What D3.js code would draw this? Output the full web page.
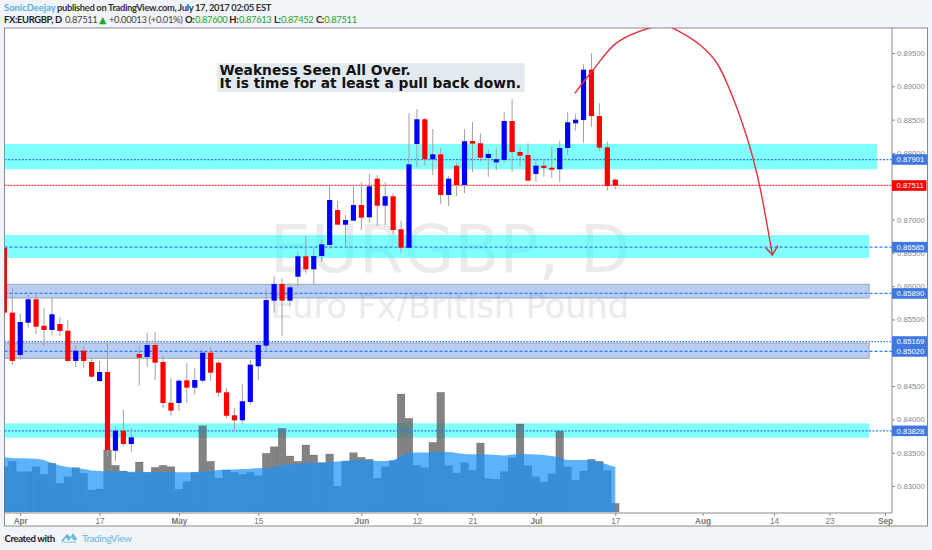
<!DOCTYPE html>
<html><head><meta charset="utf-8">
<script src="https://cdn.jsdelivr.net/npm/d3@7"></script>
<style>
html,body{margin:0;padding:0;background:#f1f4f8;overflow:hidden}
svg{display:block}
text{font-family:"Liberation Sans",Arial,sans-serif}
.hd{font-family:"Lato",sans-serif}
.dj{font-family:"DejaVu Sans",sans-serif}
</style></head><body>
<svg id="c" width="932" height="550"></svg>
<script>
// Bar indices run from -1 (30 Mar 2017) to 76 (17 Jul 2017), trading days only.
const firstBar = -1;
const opens = [.86573,.85602,.84967,.85451,.85803,.85406,.85342,.85432,.85331,.84877,.85031,.84861,.84576,.84711,.8353,.8383,.83631,.84982,.84937,.85117,.84861,.8425,.84246,.84587,.84476,.84581,.85001,.84851,.84407,.84061,.83986,.84261,.84797,.85106,.85782,.86032,.85782,.86142,.86448,.86253,.86453,.86618,.87143,.86923,.86983,.87218,.87034,.87613,.87208,.87349,.86854,.86577,.88134,.88505,.87904,.87979,.87368,.87808,.87519,.88179,.88145,.87924,.87859,.87894,.88479,.88014,.87969,.87684,.87808,.87778,.87754,.88074,.88445,.88494,.8925,.88554,.88085,.876];
const highs = [.8658,.85972,.85582,.85867,.85902,.85672,.85822,.85533,.85492,.85117,.85102,.84922,.84877,.85147,.8389,.84141,.83866,.85102,.85301,.85312,.84952,.84621,.84606,.84842,.84767,.85042,.85091,.84869,.84467,.84166,.84527,.84892,.85166,.85953,.86153,.86118,.86032,.86517,.86753,.86568,.86693,.87508,.87278,.87068,.87493,.87553,.87684,.87669,.87559,.87394,.86983,.88595,.8866,.88529,.88359,.8807,.87654,.87849,.88355,.88464,.88295,.88055,.8807,.88619,.88805,.88094,.88145,.87904,.87904,.88094,.88184,.8861,.8858,.89331,.89496,.88745,.88169,.87613];
const lows = [.856,.84816,.84892,.85376,.85282,.85102,.85267,.85252,.84861,.84786,.84771,.84621,.84561,.8345,.83375,.836,.83515,.84506,.84791,.84591,.84171,.84055,.84126,.84241,.84377,.84551,.84581,.84341,.84016,.8383,.83941,.8422,.84591,.85031,.85602,.85252,.85692,.86002,.86193,.86032,.86367,.86558,.86918,.86568,.86978,.86843,.86953,.86903,.86918,.86783,.86502,.86573,.87793,.87804,.87669,.87233,.87203,.87353,.87394,.87714,.87868,.87643,.87744,.87853,.87718,.87804,.87579,.87568,.87643,.87628,.87564,.87969,.88334,.88154,.88394,.88034,.87433,.87452];
const closes = [.85602,.84877,.85462,.85803,.85391,.85342,.85578,.85327,.84877,.85031,.84877,.84641,.84711,.8354,.8383,.83631,.83731,.84926,.85117,.84851,.84246,.8413,.84581,.84476,.84591,.85001,.84701,.84401,.84055,.83986,.84272,.84821,.85117,.85792,.86032,.85782,.85983,.86448,.86253,.86453,.86628,.87293,.86923,.86993,.87218,.87028,.87499,.87208,.87349,.86843,.86577,.87829,.88505,.87904,.87979,.87368,.87613,.87519,.88175,.88139,.87928,.87984,.87904,.88479,.88014,.87958,.87583,.87808,.87774,.87748,.88074,.8846,.88499,.8925,.88554,.88079,.87504,.87511];
const volumes = [45.3,50.7,40.3,40.3,45.3,37.7,48.7,28.7,35.3,44.3,38.7,22,23,62,46.7,41,39.3,50,39.7,44.7,46.7,45.3,22.7,30.3,39.7,86.3,50.7,34,42,39.7,37.7,39.7,36.3,58.7,65.3,83.7,56,50.7,67,57,49.3,58,26,51,59.3,54.7,52.7,33.7,45.3,51.3,118,93.7,46.7,44.3,69.7,119.7,46.3,39,49.3,41.7,69,33.3,32.7,40.3,54.3,88,46.3,35.3,30,38.3,81,45,32,41,52.7,50.7,41.3,8.7];
const volumeMA = [54.7,54,53.7,53.5,53.3,52,49,46.5,45,44,43,41.5,41,40.7,40.5,40.3,40.2,40.2,40,40,39.9,39.8,39.7,39.8,40,40.6,41,42,42.3,42.5,43,43.3,43.8,44,45,47,47.5,48,49,49.5,49.3,50,50.5,51,52,52,51.5,51,51,52,56,59,59.5,59.5,59.5,60,60,59,58,57.8,57.8,57.5,57,56.5,57.5,58,57.7,57.5,57,56,54.5,52,52,52,51.5,50,47.5,45.3];

const priceTicks = [.83,.835,.84,.845,.85,.855,.86,.865,.87,.88,.885,.89,.895];
const dateTickIdx = [1,11,21,31,44,51,58,66,76,87,96,103,110];
const dateTickLabels = ["Apr","17","May","15","Jun","12","21","Jul","17","Aug","14","23","Sep"];
const monthLabels = ["Apr","May","Jun","Jul","Aug","Sep"];

// Horizontal zones: low price, high price, last bar index, kind
const zoneLow  = [.87754,.86423,.85822,.84917,.83725];
const zoneHigh = [.88134,.86768,.86028,.85147,.83941];
const zoneEnd  = [109,108,108,108,108];
const zoneKind = ["cyan","cyan","blue","blue","cyan"];

const levelValues = [.87901,.86585,.85890,.85169,.85020,.83828];
const levelLabels = ["0.87901","0.86585","0.85890","0.85169","0.85020","0.83828"];
const levelDash   = ["2,1.5","3,2","3,2","1.5,1.5","3,2","2,1.5"];
const lastPrice = .87511, lastLabel = "0.87511";

// Hand-drawn projection arrow
const arrowIdx = [70.9,73.2,76.2,80.3,82.3,84.2,86.7,88.8,90.8,93,94.2,95.8];
const arrowPrice = [.88895,.89245,.89655,.89875,.89913,.89815,.8962,.8935,.8884,.88074,.87504,.86468];
const arrowHeadIdx = [94.97,95.8,96.5];
const arrowHeadPrice = [.86577,.86468,.86607];

const svg = d3.select("#c");
const L=4.5,R=892,T=28,B=513,OUT=927.5,BOT=526;
const x = d3.scaleLinear().domain([0,110]).range([12.3,885]);
const y = d3.scaleLinear().domain([.83,.895]).range([486,53]);
const yv = d3.scaleLinear().domain([0,120]).range([512,392]);
const bw = x(1)-x(0);
const idx = opens.map((_,i)=>i+firstBar);

svg.append("rect").attr("x",L).attr("y",T).attr("width",OUT-L).attr("height",BOT-T)
   .attr("fill","#fff").attr("stroke","#8a8a8a").attr("stroke-width",1);
svg.append("defs").append("clipPath").attr("id","pl").append("rect")
   .attr("x",L).attr("y",T).attr("width",R-L).attr("height",B-T);
const g = svg.append("g").attr("clip-path","url(#pl)");

// watermark
g.append("text").attr("class","dj").attr("x",450).attr("y",271.7).attr("text-anchor","middle")
 .attr("font-size",65.2).attr("fill","#ebebeb").text("EURGBP, D");
g.append("text").attr("class","dj").attr("x",450).attr("y",318).attr("text-anchor","middle")
 .attr("font-size",33.5).attr("fill","#ebebeb").text("Euro Fx/British Pound");

// zones
g.selectAll("rect.z").data(zoneLow).join("rect").attr("class","z")
 .attr("x",L-2).attr("width",(d,i)=>x(zoneEnd[i])-L+2)
 .attr("y",(d,i)=>y(zoneHigh[i])).attr("height",(d,i)=>y(zoneLow[i])-y(zoneHigh[i]))
 .attr("fill",(d,i)=>zoneKind[i]==="cyan"?"rgba(0,255,255,.49)":"rgba(66,120,222,.37)")
 .attr("stroke",(d,i)=>zoneKind[i]==="cyan"?"none":"#9aa6b8").attr("stroke-width",1);

// volume
g.selectAll("rect.v").data(volumes).join("rect").attr("class","v")
 .attr("x",(d,i)=>x(idx[i])-bw/2+.1).attr("width",bw-.2)
 .attr("y",d=>yv(d)).attr("height",d=>yv(0)-yv(d))
 .attr("fill","rgba(90,90,90,.75)").attr("stroke","rgba(60,60,60,.3)").attr("stroke-width",.5);
const area = d3.area().x((d,i)=>x(idx[i])).y0(yv(0)).y1(d=>yv(d)).curve(d3.curveMonotoneX);
g.append("path").datum(volumeMA).attr("d",area).attr("fill","rgba(25,148,249,.71)");

// level lines
g.selectAll("line.l").data(levelValues).join("line").attr("class","l")
 .attr("x1",L).attr("x2",R).attr("y1",d=>y(d)).attr("y2",d=>y(d))
 .attr("stroke","#2f7cff").attr("stroke-width",1.25).attr("stroke-dasharray",(d,i)=>levelDash[i]);
g.append("line").attr("x1",L).attr("x2",R).attr("y1",y(lastPrice)).attr("y2",y(lastPrice))
 .attr("stroke","#ff3a45").attr("stroke-width",1.25).attr("stroke-dasharray","2,1");

// candles
const col = i => closes[i]>=opens[i] ? "#0000ff" : "#ff0000";
g.selectAll("line.w").data(highs).join("line").attr("class","w")
 .attr("x1",(d,i)=>x(idx[i])).attr("x2",(d,i)=>x(idx[i]))
 .attr("y1",d=>y(d)).attr("y2",(d,i)=>y(lows[i]))
 .attr("stroke","#a0a0a0").attr("stroke-width",1);
g.selectAll("rect.b").data(opens).join("rect").attr("class","b")
 .attr("x",(d,i)=>x(idx[i])-2.6).attr("width",5.2)
 .attr("y",(d,i)=>y(Math.max(opens[i],closes[i])))
 .attr("height",(d,i)=>Math.max(1,Math.abs(y(opens[i])-y(closes[i]))))
 .attr("fill",(d,i)=>col(i));

// arrow
const arc = d3.line().x(d=>x(d[0])).y(d=>y(d[1])).curve(d3.curveCatmullRom);
g.append("path").datum(arrowIdx.map((d,i)=>[d,arrowPrice[i]])).attr("d",arc)
 .attr("fill","none").attr("stroke","#e2323c").attr("stroke-width",1.4);
g.append("path").datum(arrowHeadIdx.map((d,i)=>[d,arrowHeadPrice[i]]))
 .attr("d",d3.line().x(d=>x(d[0])).y(d=>y(d[1])))
 .attr("fill","none").attr("stroke","#c8323c").attr("stroke-width",1.4);

// annotation
g.append("rect").attr("x",217.4).attr("y",63.2).attr("width",307.4).attr("height",29).attr("fill","#e3eaef");
const note = g.append("text").attr("class","dj").attr("font-weight","bold")
 .attr("font-size",13.8).attr("fill","#111");
note.append("tspan").attr("x",219.5).attr("y",75.3).text("Weakness Seen All Over.");
note.append("tspan").attr("x",219.5).attr("y",88.4).text("It is time for at least a pull back down.");

// axes
const ax = d3.axisRight(y).tickValues(priceTicks).tickFormat(d3.format(".5f")).tickSize(3).tickPadding(2);
const ga = svg.append("g").attr("transform",`translate(${R},0)`).call(ax);
ga.select(".domain").attr("stroke","#8a8a8a").attr("d",`M0,${T}V${B}`);
ga.selectAll("line").attr("stroke","#8a8a8a");
ga.selectAll("text").attr("fill","#8a8a8a").attr("font-size",7.7);

const bx = d3.axisBottom(x).tickValues(dateTickIdx).tickFormat((d,i)=>dateTickLabels[i]).tickSize(3).tickPadding(2);
const gb = svg.append("g").attr("transform",`translate(0,${B})`).call(bx);
gb.select(".domain").attr("stroke","#8a8a8a").attr("d",`M${L},0H${R}`);
gb.selectAll("line").attr("stroke","#8a8a8a");
gb.selectAll("text").attr("fill","#777").attr("font-size",8.2)
  .attr("font-weight",(d,i)=>monthLabels.includes(dateTickLabels[i])?"bold":"normal");

// price flags
const flags = svg.append("g");
levelValues.forEach((v,i)=>{
  flags.append("rect").attr("x",R).attr("y",y(v)-5.3).attr("width",OUT-R).attr("height",10.6).attr("fill","#3f78e0");
});
levelValues.forEach((v,i)=>{
  flags.append("text").attr("x",R+4.5).attr("y",y(v)+2.8).attr("font-size",7.7).attr("fill","#fff").text(levelLabels[i]);
});
flags.append("rect").attr("x",R).attr("y",y(lastPrice)-5.3).attr("width",OUT-R-1).attr("height",10.6).attr("fill","#ff0000");
flags.append("text").attr("x",R+4.5).attr("y",y(lastPrice)+2.8).attr("font-size",7.7).attr("fill","#fff").text(lastLabel);

// header
const h1 = svg.append("text").attr("class","hd").attr("y",11).attr("font-size",9.4);
h1.append("tspan").attr("x",4).attr("fill","#5aaee0").attr("font-weight",700).text("SonicDeejay");
h1.append("tspan").attr("x",57).attr("fill","#333").attr("font-weight",700).attr("letter-spacing",-.33).text("published on TradingView.com, July 17, 2017 02:05 EST");
const h2 = svg.append("text").attr("class","hd").attr("y",22.7).attr("font-size",9.4).attr("letter-spacing",-.34);
const G="#22a52c";
[["FX:EURGBP, D","#222",4,700],["0.87511","#444",65,400],["+0.00013 (+0.01%)","#444",109,400],
 ["O:","#222",185,700],["0.87600",G,195,400],["H:","#222",229.3,700],["0.87613",G,239,400],["L:","#222",274,700],["0.87452",G,281,400],["C:","#222",316,700],["0.87511",G,324.3,400]]
 .forEach(p=>h2.append("tspan").attr("x",p[2]).attr("fill",p[1]).attr("font-weight",p[3]).text(p[0]));
svg.append("text").attr("class","dj").attr("x",99).attr("y",23).attr("font-size",9.5).attr("fill",G).text("\u25B2");

// footer
svg.append("text").attr("class","hd").attr("x",4.5).attr("y",541.5).attr("font-size",9.6).attr("font-weight",700).attr("letter-spacing",-.4).attr("fill","#222").text("Created with");
svg.append("path").attr("d","M61 541 L67 534 L70.5 537 L73 533 L77 539 L74.5 541 L71.5 537.5 L68.5 541 L66 537.5 L63.5 541 Z")
   .attr("fill","#6ab8dc");
svg.append("path").attr("d","M61 541.5 H77 L76 543 H62 Z").attr("fill","#a3d4ea");
svg.append("text").attr("class","hd").attr("x",82).attr("y",541.5).attr("font-size",10.2).attr("letter-spacing",-.5).attr("fill","#6ab9e0").text("TradingView");
</script>
</body></html>
